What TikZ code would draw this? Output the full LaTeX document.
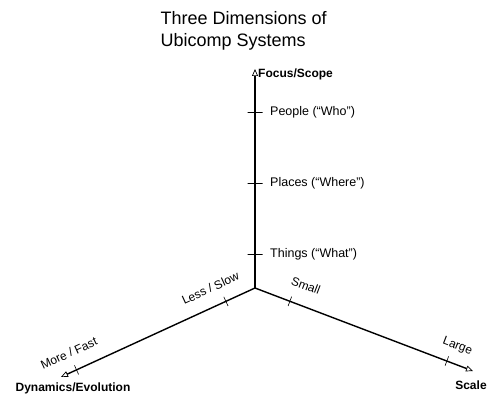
\documentclass[tikz,border=0pt]{standalone}
\usepackage{fontspec}
\setmainfont{Liberation Sans}
\usetikzlibrary{arrows.meta, positioning}

\begin{document}
\begin{tikzpicture}[
    x=1pt, y=-1pt,
    >={Triangle[open, length=7pt, width=6pt, line width=0.7pt]},
    axis/.style={line width=1.4pt},
    tick/.style={draw, line width=0.6pt, minimum width=0pt, minimum height=#1, inner sep=0pt, outer sep=0pt, sloped},
    tick/.default=10pt,
    axislabel/.style={font=\fontsize{12}{14}\selectfont\bfseries, inner sep=1pt},
    level/.style={font=\fontsize{12.5}{15}\selectfont, inner sep=1pt},
    slopelabel/.style={font=\fontsize{12}{14}\selectfont, sloped, above=#1},
    slopelabel/.default=10pt,
    title/.style={font=\fontsize{18}{22}\selectfont, align=left, anchor=west}
]
\useasboundingbox (0,0) rectangle (491,398);

% Title
\node (title) [title] at (157,31) {Three Dimensions of\\Ubicomp Systems};

% Axes end points
\coordinate (o) at (255,288);
\coordinate (focus) at (255,69);
\coordinate (dyn) at (61,377);
\coordinate (scale) at (473,371);

% Connections
\draw [axis, ->] (o) -- (focus)
    node[tick=15pt, pos=0.153] (tThings) {}
    node[tick=15pt, pos=0.480] (tPlaces) {}
    node[tick=15pt, pos=0.804] (tPeople) {};
\draw [axis, <-] (dyn) -- (o)
    node[tick, pos=0.08] (tMore) {}
    node[tick, pos=0.85] (tLess) {}
    node[slopelabel, pos=0.08] (more) {More / Fast}
    node[slopelabel, pos=0.81] (less) {Less / Slow};
\draw [axis, ->] (o) -- (scale)
    node[tick, pos=0.16] (tSmall) {}
    node[tick, pos=0.88] (tLarge) {}
    node[slopelabel=12pt, pos=0.2] (small) {Small}
    node[slopelabel=8pt, pos=0.9] (large) {Large};

% Nodes
\node (focuslbl) [axislabel, right=2pt of focus, yshift=-5pt] {Focus/Scope};
\node (dynlbl) [axislabel, below=5pt of dyn, xshift=12pt] {Dynamics/Evolution};
\node (scalelbl) [axislabel, below=9pt of scale, xshift=-2pt] {Scale};
\node (people) [level, right=14pt of tPeople] {People (“Who”)};
\node (places) [level, right=14pt of tPlaces] {Places (“Where”)};
\node (things) [level, right=14pt of tThings] {Things (“What”)};

\end{tikzpicture}
\end{document}
